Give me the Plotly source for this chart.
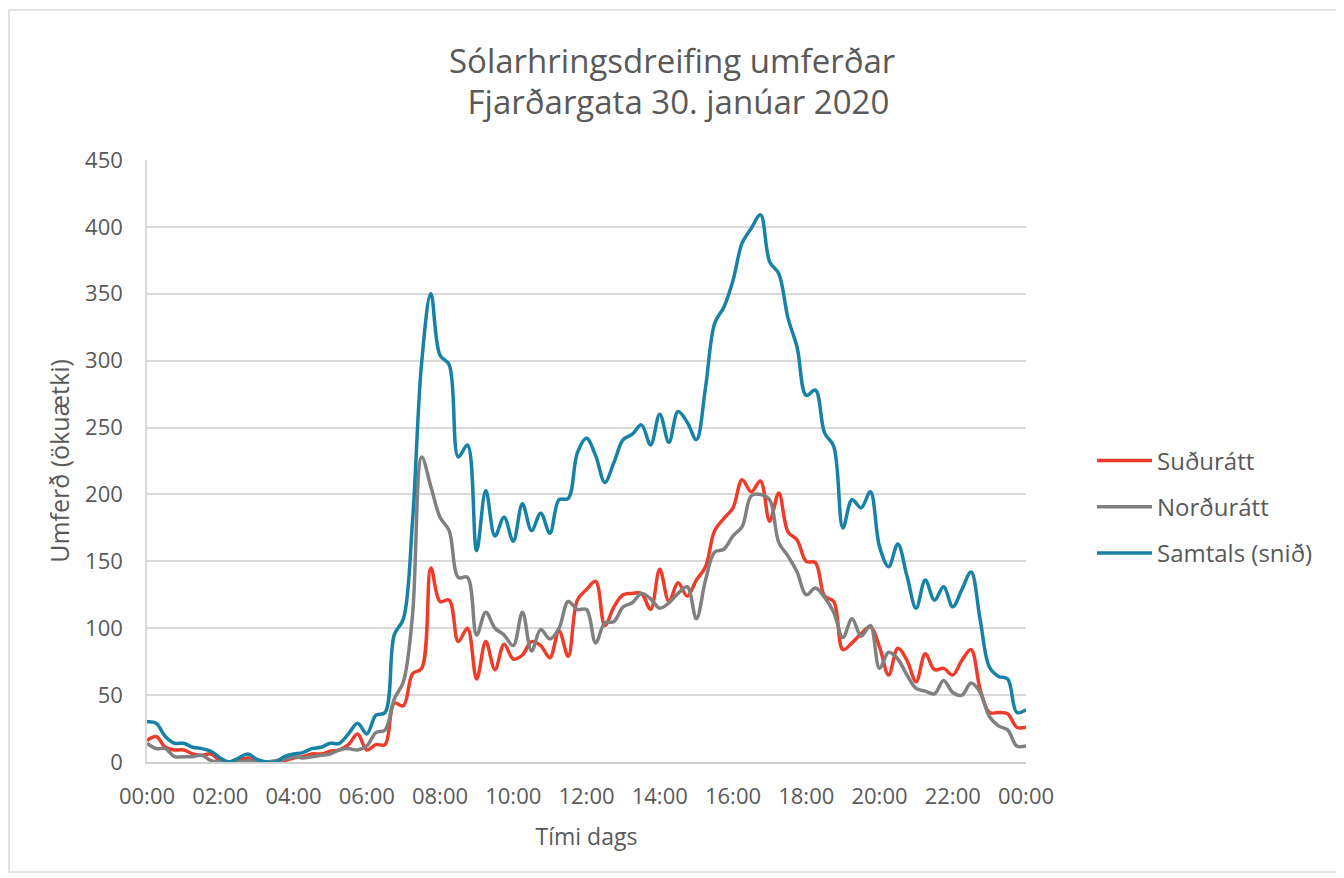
import pandas as pd
import plotly.graph_objects as go

# 15-minute intervals, 30. janúar 2020 00:00 -> 31. janúar 00:00
times = pd.date_range("2020-01-30 00:00", "2020-01-31 00:00", freq="15min")

sudur = [16, 19, 11, 9, 9, 6, 5, 6, 1, 0, 1, 3, 0, 0, 0, 1, 3, 4, 6, 6, 8, 9, 13, 21,
         9, 13, 13, 44, 42, 66, 70, 145, 120, 121, 90, 100, 62, 90, 69, 88, 77, 80, 90, 87,
         78, 98, 79, 121, 129, 135, 102, 116, 125, 126, 126, 114, 144, 120, 134, 124, 136, 146,
         173, 182, 190, 211, 202, 210, 180, 201, 172, 166, 150, 149, 124, 120, 84, 89, 96, 101,
         86, 65, 85, 76, 60, 81, 69, 70, 65, 76, 84, 54, 37, 37, 36, 26, 26]

nordur = [14, 10, 10, 4, 4, 4, 5, 1, 0, 0, 0, 1, 0, 0, 1, 2, 4, 3, 4, 5, 6, 9, 10, 9,
          12, 22, 24, 47, 60, 110, 228, 206, 183, 173, 138, 138, 95, 112, 100, 95, 87, 112, 83, 99,
          92, 100, 120, 114, 114, 89, 104, 105, 116, 119, 126, 122, 115, 119, 126, 131, 107, 136,
          157, 159, 169, 176, 199, 200, 196, 164, 154, 142, 125, 130, 123, 112, 93, 107, 94, 102,
          70, 82, 77, 65, 55, 53, 51, 61, 52, 50, 59, 52, 34, 27, 24, 12, 12]

samtals = [30, 29, 19, 14, 14, 11, 10, 8, 3, 0, 3, 6, 2, 0, 0, 4, 6, 7, 10, 11, 14, 14, 21, 29,
           21, 35, 37, 95, 107, 180, 299, 350, 304, 297, 228, 237, 158, 203, 169, 183, 165, 193, 173, 186,
           171, 196, 197, 231, 242, 229, 209, 224, 241, 245, 252, 237, 260, 239, 262, 254, 241, 280,
           328, 340, 360, 388, 399, 409, 374, 365, 332, 310, 274, 278, 246, 236, 175, 196, 190, 202,
           161, 146, 163, 139, 115, 136, 121, 131, 116, 129, 142, 106, 71, 64, 62, 37, 39]

series_names = ["Suðurátt", "Norðurátt", "Samtals (snið)"]
series_colors = ["#EF3B2A", "#808080", "#1782A5"]

TEXT = "#595959"
FONT = "Open Sans"

# screen position of the plot area (page has an 8px body margin)
PX0, PX1, PY0, PY1 = 147, 1026, 160, 762


def px(x):
    return (x - PX0) / (PX1 - PX0)


def py(y):
    return (PY1 - y) / (PY1 - PY0)


fig = go.Figure()
for name, vals, col in zip(series_names, [sudur, nordur, samtals], series_colors):
    fig.add_trace(go.Scatter(
        x=times, y=vals, name=name, mode="lines",
        line=dict(color=col, width=3.5, shape="spline", smoothing=1.0),
        legendgroup=name,
    ))

fig.update_layout(
    width=1344, height=878,
    paper_bgcolor="white", plot_bgcolor="white",
    margin=dict(l=139, r=326, t=152, b=124),
    font=dict(family=FONT, color=TEXT, size=22),
    showlegend=True,
    legend=dict(
        x=px(1092), xanchor="left", y=py(507), yanchor="middle",
        font=dict(size=24, color=TEXT, family=FONT),
        itemwidth=55, tracegroupgap=12,
        bgcolor="rgba(0,0,0,0)",
    ),
    annotations=[
        dict(text="Sólarhringsdreifing umferðar", xref="paper", yref="paper",
             x=px(672), y=py(60), xanchor="center", yanchor="middle",
             showarrow=False, font=dict(size=33, color=TEXT, family=FONT)),
        dict(text=" Fjarðargata 30. janúar 2020", xref="paper", yref="paper",
             x=px(674), y=py(102), xanchor="center", yanchor="middle",
             showarrow=False, font=dict(size=33, color=TEXT, family=FONT)),
    ],
    shapes=[
        dict(type="rect", xref="paper", yref="paper",
             x0=px(9), x1=px(1339), y0=py(872), y1=py(10),
             line=dict(color="#D9D9D9", width=1.5), fillcolor="rgba(0,0,0,0)", layer="below"),
    ],
)

fig.update_xaxes(
    range=[times[0], times[-1]],
    tickformat="%H:%M", dtick=2 * 3600 * 1000, tick0=times[0],
    showgrid=False, showline=True, linecolor="#D0D0D0", linewidth=1.5,
    ticks="", ticklabelstandoff=14,
    tickfont=dict(size=22, color=TEXT, family=FONT),
    title=dict(text="Tími dags", font=dict(size=23, color=TEXT, family=FONT), standoff=20),
    zeroline=False,
)
fig.update_yaxes(
    range=[0, 450], dtick=50, tick0=0,
    showgrid=True, gridcolor="#D9D9D9", gridwidth=1.5,
    showline=True, linecolor="#D9D9D9", linewidth=1.5,
    ticks="", ticklabelstandoff=18,
    tickfont=dict(size=22, color=TEXT, family=FONT),
    title=dict(text="Umferð (ökuætki)", font=dict(size=25, color=TEXT, family=FONT), standoff=8),
    zeroline=False,
)

fig.write_html("out.html")
